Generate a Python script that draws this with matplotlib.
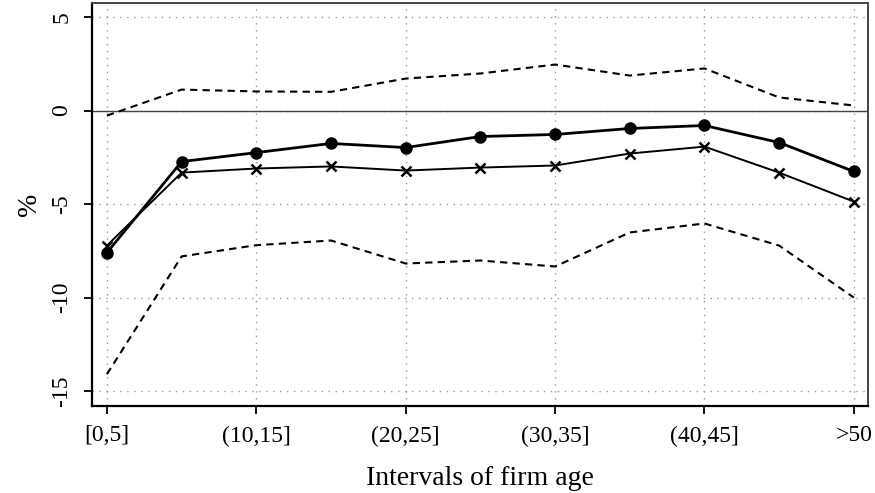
import numpy as np
import matplotlib
matplotlib.use("Agg")
import matplotlib.pyplot as plt

plt.rcParams["font.family"] = ["Liberation Serif", "DejaVu Serif"]

# firm-age intervals (11 bins), only every other one is labelled
age_bins = ["[0,5]", "(5,10]", "(10,15]", "(15,20]", "(20,25]", "(25,30]",
            "(30,35]", "(35,40]", "(40,45]", "(45,50]", ">50"]
estimate = [-7.6, -2.73, -2.25, -1.76, -1.98, -1.39, -1.28, -0.96, -0.80, -1.71, -3.26]
alt_est = [-7.22, -3.32, -3.10, -2.99, -3.21, -3.05, -2.94, -2.30, -1.93, -3.32, -4.87]
ci_upper = [-0.27, 1.12, 1.02, 1.0, 1.71, 1.98, 2.46, 1.87, 2.25, 0.7, 0.27]
ci_lower = [-14.1, -7.8, -7.2, -6.95, -8.18, -8.02, -8.34, -6.52, -6.04, -7.22, -10.0]

x = np.arange(len(age_bins))

fig = plt.figure(figsize=(8.75, 4.93), dpi=100)
ax = fig.add_axes([92 / 875, 87 / 493, 776 / 875, 403 / 493])

ax.axhline(0, color="#444444", lw=1.0, zorder=1)
ax.plot(x, ci_upper, ls=(0, (3.5, 2.5)), color="black", lw=1.5)
ax.plot(x, ci_lower, ls=(0, (3.5, 2.5)), color="black", lw=1.5)
ax.plot(x, estimate, "o-", color="black", lw=2.0, ms=8)
ax.plot(x, alt_est, "x-", color="black", lw=1.4, ms=7, mew=1.8)

ax.set_xlim(-0.2, 10.19)
ax.set_ylim(-15.8, 5.75)
ax.set_xticks(x[::2])
ax.set_xticklabels(age_bins[::2], fontsize=17)
ax.set_yticks([-15, -10, -5, 0, 5])
ax.set_yticklabels(["-15", "-10", "-5", "0", "5"], fontsize=17,
                   rotation=90, va="center")
ax.grid(True, ls=(0, (1, 4)), color="#999999", lw=1.0)
ax.set_axisbelow(True)

for side in ("left", "bottom"):
    ax.spines[side].set_linewidth(1.6)
    ax.spines[side].set_color("black")
for side in ("top", "right"):
    ax.spines[side].set_linewidth(1.4)
    ax.spines[side].set_color("#444444")
ax.tick_params(length=6, width=1.3, pad=8)

ax.set_xlabel("Intervals of firm age", fontsize=20, labelpad=14)
ax.set_ylabel("%", fontsize=20, labelpad=7)

fig.savefig("out.png", dpi=100)
